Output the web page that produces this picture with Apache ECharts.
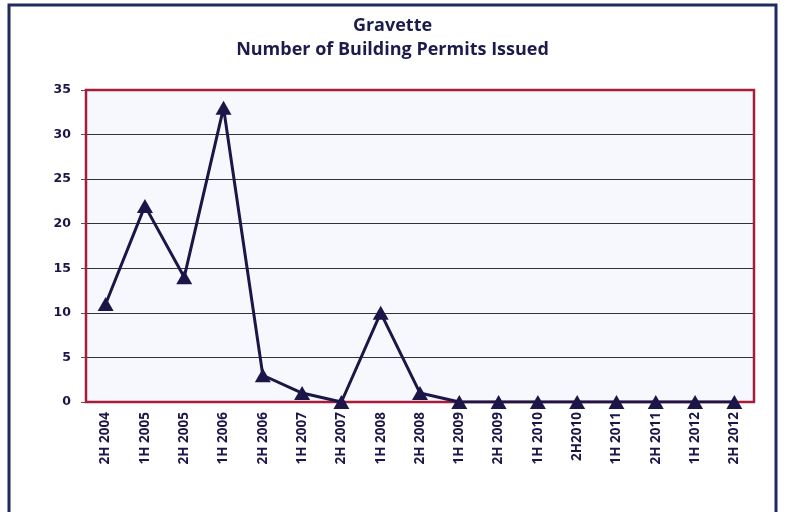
<!DOCTYPE html>
<html>
<head>
<meta charset="utf-8">
<script src="https://cdn.jsdelivr.net/npm/echarts@6/dist/echarts.min.js"></script>
<style>
html, body { margin: 0; padding: 0; background: #fff; }
#chart { width: 785px; height: 512px; }
</style>
</head>
<body>
<div id="chart"></div>
<script>
// 半年度数据
var periods = ['2H 2004', '1H 2005', '2H 2005', '1H 2006', '2H 2006', '1H 2007', '2H 2007', '1H 2008',
    '2H 2008', '1H 2009', '2H 2009', '1H 2010', '2H2010', '1H 2011', '2H 2011', '1H 2012', '2H 2012'];
var permits = [11, 22, 14, 33, 3, 1, 0, 10, 1, 0, 0, 0, 0, 0, 0, 0, 0];
var yTicks = [0, 5, 10, 15, 20, 25, 30, 35];

var navy = '#1b1548';
var red = '#a61d3b';
var chartObj = echarts.init(document.getElementById('chart'));

var option = {
    backgroundColor: '#ffffff',
    animation: false,
    title: {
        text: 'Gravette\nNumber of Building Permits Issued',
        left: 'center',
        top: 9,
        textStyle: {
            color: '#1c1c4c',
            fontFamily: 'Open Sans',
            fontWeight: 'bold',
            fontSize: 18,
            lineHeight: 24
        }
    },
    graphic: [{
        // 外框
        type: 'rect',
        shape: { x: 9, y: 5, width: 767, height: 520 },
        style: { fill: 'none', stroke: '#1f2d5c', lineWidth: 3 },
        z: 100
    }, {
        // 绘图区边框（红色）
        type: 'rect',
        shape: { x: 86, y: 90, width: 668, height: 312 },
        style: { fill: 'none', stroke: red, lineWidth: 2.5 },
        z: 1
    }],
    grid: {
        left: 86,
        right: 31,
        top: 90,
        bottom: 110,
        show: true,
        backgroundColor: '#f7f8fd',
        borderWidth: 0
    },
    xAxis: {
        type: 'category',
        data: periods,
        boundaryGap: true,
        axisLine: { show: false },
        axisTick: { show: false },
        axisLabel: {
            rotate: 90,
            interval: 0,
            margin: 10,
            color: navy,
            fontFamily: 'Open Sans',
            fontWeight: 'bold',
            fontSize: 13.5
        }
    },
    yAxis: {
        type: 'value',
        min: yTicks[0],
        max: yTicks[yTicks.length - 1],
        interval: 5,
        axisLine: { show: false },
        axisTick: { show: true, length: 5, lineStyle: { color: '#555', width: 1 } },
        axisLabel: {
            margin: 15,
            color: navy,
            fontFamily: 'DejaVu Sans',
            fontWeight: 'bold',
            fontSize: 12.5
        },
        splitLine: { lineStyle: { color: '#333333', width: 1 } }
    },
    series: [{
        type: 'line',
        data: permits,
        symbol: 'triangle',
        symbolSize: [16, 14],
        showAllSymbol: true,
        lineStyle: { color: navy, width: 3 },
        itemStyle: { color: navy },
        z: 10
    }]
};

chartObj.setOption(option);
</script>
</body>
</html>
